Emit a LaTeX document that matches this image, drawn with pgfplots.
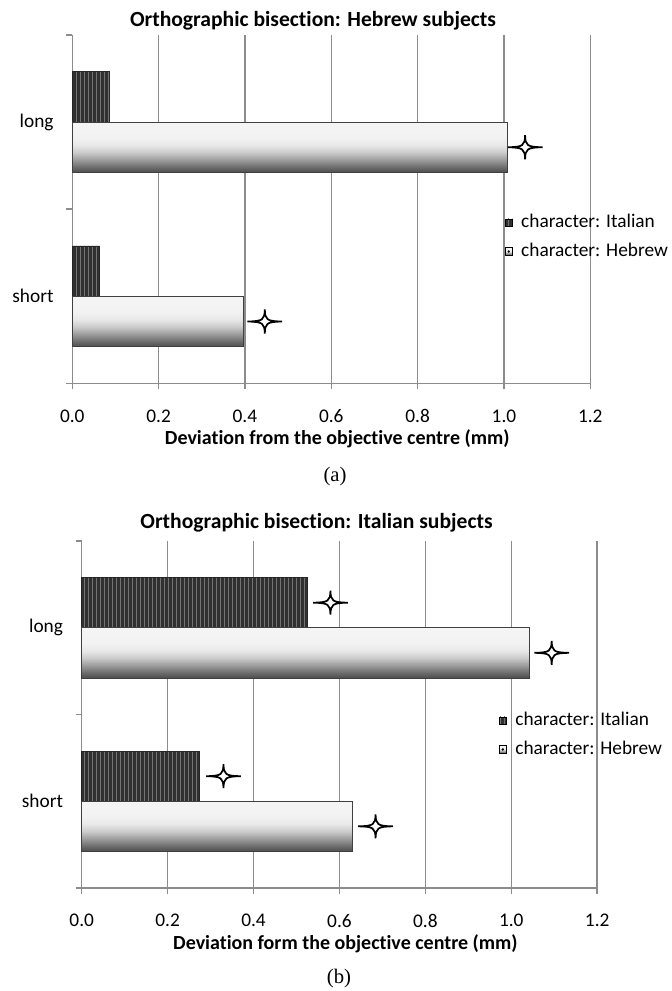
\documentclass[border=0pt]{standalone}
\usepackage{pgfplots}
\pgfplotsset{compat=1.18}
\usetikzlibrary{patterns}
\usepackage{fontspec}
\setmainfont{Carlito}[Ligatures=NoCommon]
\newfontfamily\capfont{Liberation Serif}
\definecolor{gridgray}{HTML}{8C8C8C}
\definecolor{darkbar}{HTML}{303030}

\pgfdeclareverticalshading{hebrewshade}{100bp}{color(0bp)=(black!70); color(25bp)=(black!70); color(30bp)=(black!58); color(37bp)=(black!40); color(45bp)=(black!20); color(52bp)=(black!9); color(60bp)=(black!5); color(75bp)=(black!4); color(100bp)=(black!4)}

\pgfdeclareplotmark{star4}{%
  \pgfpathmoveto{\pgfqpoint{0pt}{\pgfplotmarksize}}%
  \pgfpathcurveto{\pgfqpoint{0.02\pgfplotmarksize}{0.15\pgfplotmarksize}}{\pgfqpoint{0.15\pgfplotmarksize}{0.02\pgfplotmarksize}}{\pgfqpoint{1.45\pgfplotmarksize}{0pt}}%
  \pgfpathcurveto{\pgfqpoint{0.15\pgfplotmarksize}{-0.02\pgfplotmarksize}}{\pgfqpoint{0.02\pgfplotmarksize}{-0.15\pgfplotmarksize}}{\pgfqpoint{0pt}{-\pgfplotmarksize}}%
  \pgfpathcurveto{\pgfqpoint{-0.02\pgfplotmarksize}{-0.15\pgfplotmarksize}}{\pgfqpoint{-0.15\pgfplotmarksize}{-0.02\pgfplotmarksize}}{\pgfqpoint{-1.45\pgfplotmarksize}{0pt}}%
  \pgfpathcurveto{\pgfqpoint{-0.15\pgfplotmarksize}{0.02\pgfplotmarksize}}{\pgfqpoint{-0.02\pgfplotmarksize}{0.15\pgfplotmarksize}}{\pgfqpoint{0pt}{\pgfplotmarksize}}%
  \pgfpathclose
  \pgfusepathqfillstroke
}

\pgfplotsset{
  barpanel/.style={
    scale only axis,
    clip=false,
    font=\fontsize{14.5}{17}\selectfont,
    xmin=0, xmax=1.2, ymin=0.5, ymax=2.5,
    axis lines=left,
    axis line style={-, draw=gridgray, line width=1.1pt},
    tick align=outside,
    major tick length=4.5pt,
    tick style={draw=gridgray, line width=1.1pt},
    xtick={0,0.2,0.4,0.6,0.8,1.0,1.2},
    xticklabels={0.0,0.2,0.4,0.6,0.8,1.0,1.2},
    xmajorgrids,
    major grid style={draw=gridgray, line width=1.1pt},
    xticklabel style={yshift=-11.5pt},
    ytick={0.5,1.5,2.5},
    yticklabels={,,},
    extra y ticks={1,2},
    extra y tick labels={short,long},
    extra y tick style={major tick length=0pt, grid=none},
    yticklabel style={anchor=east, xshift=-10.5pt},
    xlabel style={at={(axis description cs:0.5,0)}, anchor=center, yshift=-41.5pt, xshift=4.5pt, font=\fontsize{15}{18}\selectfont\bfseries},
    bar width=0.289,
    legend cell align=left,
    legend style={draw=none, fill=none, inner sep=0pt, column sep=6.2pt, row sep=8.25pt,
      nodes={inner sep=0pt, text height=10.5pt, text depth=3pt},
      font=\fontsize{14.5}{17}\selectfont},
  },
  itbar/.style={xbar, bar shift=0.1445, fill=darkbar, draw=black!85, line width=0.4pt,
    postaction={pattern=vertical lines, pattern color=black!55},
    legend image code/.code={\draw[fill=darkbar, draw=black, line width=0.4pt] (0pt,-2.75pt) rectangle (5.5pt,2.75pt);}},
  hebar/.style={xbar, bar shift=-0.1445, shade, shading=hebrewshade, draw=black!75, line width=0.5pt,
    postaction={pattern=dots, pattern color=black!22},
    legend image code/.code={\draw[fill=white, draw=black, line width=0.8pt] (0pt,-2.75pt) rectangle (5.5pt,2.75pt); \fill[black] (2.75pt,0pt) circle (0.5pt);}},
  starmarks/.style={only marks, mark=star4, mark size=9pt, mark options={fill=white, draw=black, line width=1.3pt}, forget plot},
}

\begin{document}
\begin{tikzpicture}
\useasboundingbox (0pt,0pt) rectangle (503.25pt,-743.25pt);

% ---------- panel (a) ----------
\node[font=\fontsize{16.2}{19}\selectfont\bfseries] at (234.75pt,-15.75pt) {Orthographic bisection: Hebrew subjects};
\begin{axis}[barpanel,
  at={(54.2pt,-287.6pt)}, anchor=south west,
  width=388.5pt, height=261.4pt,
  xlabel={Deviation from the objective centre (mm)},
  legend style={at={(axis description cs:0.834,0.42)}, anchor=west},
]
\addplot[itbar] coordinates {(0.086,2) (0.063,1)};
\addlegendentry{character: Italian}
\addplot[hebar] coordinates {(1.008,2)};
\addlegendentry{character: Hebrew}
\addplot[hebar, forget plot] coordinates {(0.397,1)};
\addplot[starmarks] coordinates {(1.049,1.8555) (0.446,0.8555)};
\end{axis}
\node[font=\capfont\fontsize{15.5}{18}\selectfont] at (251.25pt,-357.75pt) {(a)};

% ---------- panel (b) ----------
\node[font=\fontsize{16.2}{19}\selectfont\bfseries] at (237.4pt,-392.25pt) {Orthographic bisection: Italian subjects};
\begin{axis}[barpanel,
  at={(61.3pt,-666pt)}, anchor=south west,
  width=386.6pt, height=260.25pt,
  xlabel={Deviation form the objective centre (mm)},
  legend style={at={(axis description cs:0.8083,0.441)}, anchor=west},
]
\addplot[itbar] coordinates {(0.525,2) (0.273,1)};
\addlegendentry{character: Italian}
\addplot[hebar] coordinates {(1.042,2)};
\addlegendentry{character: Hebrew}
\addplot[hebar, forget plot] coordinates {(0.630,1)};
\addplot[starmarks] coordinates {(0.579,2.1445) (1.094,1.8555) (0.330,1.1445) (0.684,0.8555)};
\end{axis}
\node[font=\capfont\fontsize{15.5}{18}\selectfont] at (254.25pt,-734.25pt) {(b)};
\end{tikzpicture}
\end{document}
